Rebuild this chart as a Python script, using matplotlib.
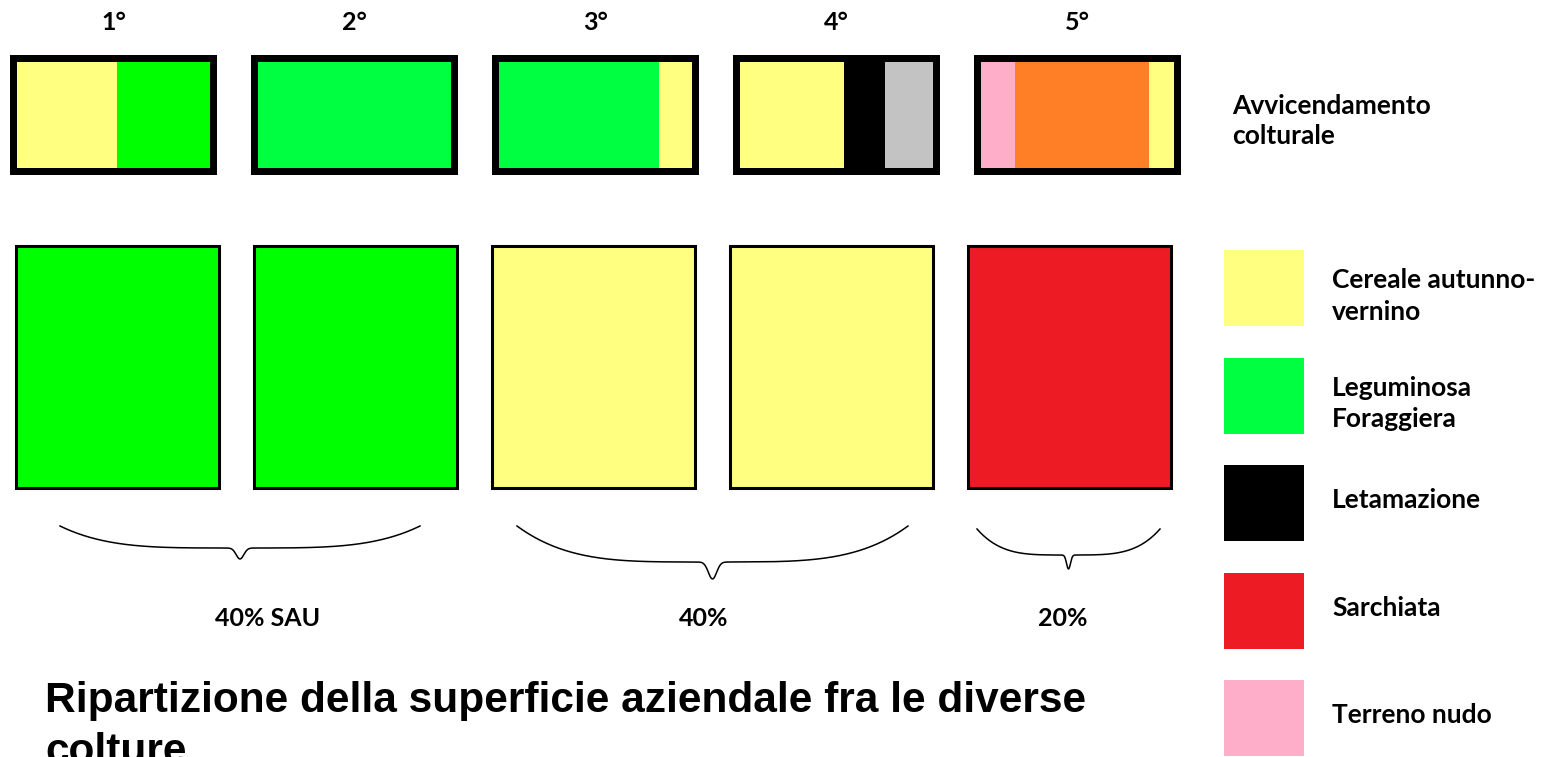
import numpy as np
import matplotlib.pyplot as plt

# dati dello schema
years = ["1°", "2°", "3°", "4°", "5°"]
rotation_crops = [["cereale", "leguminosa_b"], ["leguminosa"], ["leguminosa", "cereale"],
                  ["cereale", "letamazione", "grigio"], ["nudo", "arancio", "cereale"]]
rotation_shares = [[0.52, 0.48], [1.0], [0.83, 0.17], [0.54, 0.21, 0.25], [0.175, 0.695, 0.13]]
field_crops = ["leguminosa_b", "leguminosa_b", "cereale", "cereale", "sarchiata"]
groups = [[0, 1], [2, 3], [4]]
group_labels = ["40% SAU", "40%", "20%"]
legend_crops = ["cereale", "leguminosa", "letamazione", "sarchiata", "nudo"]
legend_labels = ["Cereale autunno-\nvernino", "Leguminosa\nForaggiera", "Letamazione",
                 "Sarchiata", "Terreno nudo"]
header = "Avvicendamento\ncolturale"
title_lines = ["Ripartizione della superficie aziendale fra le diverse", "colture"]

crop_colors = {"cereale": "#FFFF80", "leguminosa": "#00FF40", "leguminosa_b": "#00FF00",
               "letamazione": "#000000", "grigio": "#C3C3C3", "nudo": "#FFAEC9",
               "arancio": "#FF7F27", "sarchiata": "#ED1C24"}

# layout in pixel
W, H = 1553, 757
top_x0, top_step, top_w, top_y, top_h, frame = 10, 241, 207, 55, 120, 7
bot_x0, bot_step, bot_w, bot_y, bot_h = 16, 238, 203, 246, 242
brace_span = [(60, 420), (517, 908), (977, 1160)]
brace_flat = [548, 562, 555]
brace_rise = [22, 36, 26]
brace_dip = [11, 17, 14]
label_x = [268, 704, 1063]
label_y = 619
leg_x, leg_y0, leg_step, leg_w, leg_h = 1224, 250, 107.5, 80, 76
cal = "Lato"

fig = plt.figure(figsize=(W / 100, H / 100), dpi=100)
ax = fig.add_axes([0, 0, 1, 1])
ax.set_xlim(0, W)
ax.set_ylim(H, 0)
ax.axis("off")

# riga superiore: avvicendamento
for i, year in enumerate(years):
    left = top_x0 + i * top_step
    ax.bar(left, top_h, width=top_w, bottom=top_y, align="edge", color="black")
    inner_w = top_w - 2 * frame
    x = left + frame
    for crop, share in zip(rotation_crops[i], rotation_shares[i]):
        ax.bar(x, top_h - 2 * frame, width=inner_w * share, bottom=top_y + frame,
               align="edge", color=crop_colors[crop])
        x += inner_w * share
    ax.text(left + top_w / 2, 22, year, ha="center", va="center", fontsize=18,
            fontweight="bold", family=cal)

# riga inferiore: superficie
for i, crop in enumerate(field_crops):
    left = bot_x0 + i * bot_step
    ax.bar(left, bot_h, width=bot_w, bottom=bot_y, align="edge",
           color=crop_colors[crop], edgecolor="black", linewidth=2.2)

# graffe
for k, g in enumerate(groups):
    x0, x1 = brace_span[k]
    u = np.linspace(-1, 1, 400)
    xs = x0 + (u + 1) / 2 * (x1 - x0)
    ys = brace_flat[k] - brace_rise[k] * np.abs(u) ** 4 + brace_dip[k] * np.exp(-(u / 0.03) ** 2)
    ax.plot(xs, ys, color="black", lw=1.1)
    ax.text(label_x[k], label_y, group_labels[k], ha="center", va="center", fontsize=18,
            fontweight="bold", family=cal)

# legenda
ax.text(1232, 121, header, ha="left", va="center", fontsize=19, fontweight="bold",
        family=cal, linespacing=1.35)
for j, (crop, lab) in enumerate(zip(legend_crops, legend_labels)):
    top = leg_y0 + j * leg_step
    ax.bar(leg_x, leg_h, width=leg_w, bottom=top, align="edge", color=crop_colors[crop])
    dy = 8 if "\n" in lab else -3
    ax.text(1332, top + leg_h / 2 + dy, lab, ha="left", va="center", fontsize=19,
            fontweight="bold", family=cal, linespacing=1.35)

# titolo
ax.text(45, 712, title_lines[0], ha="left", va="baseline", fontsize=30.5,
        fontweight="bold", family="Liberation Sans")
ax.text(45, 763, title_lines[1], ha="left", va="baseline", fontsize=30.5,
        fontweight="bold", family="Liberation Sans")

fig.savefig("out.png", dpi=100)
